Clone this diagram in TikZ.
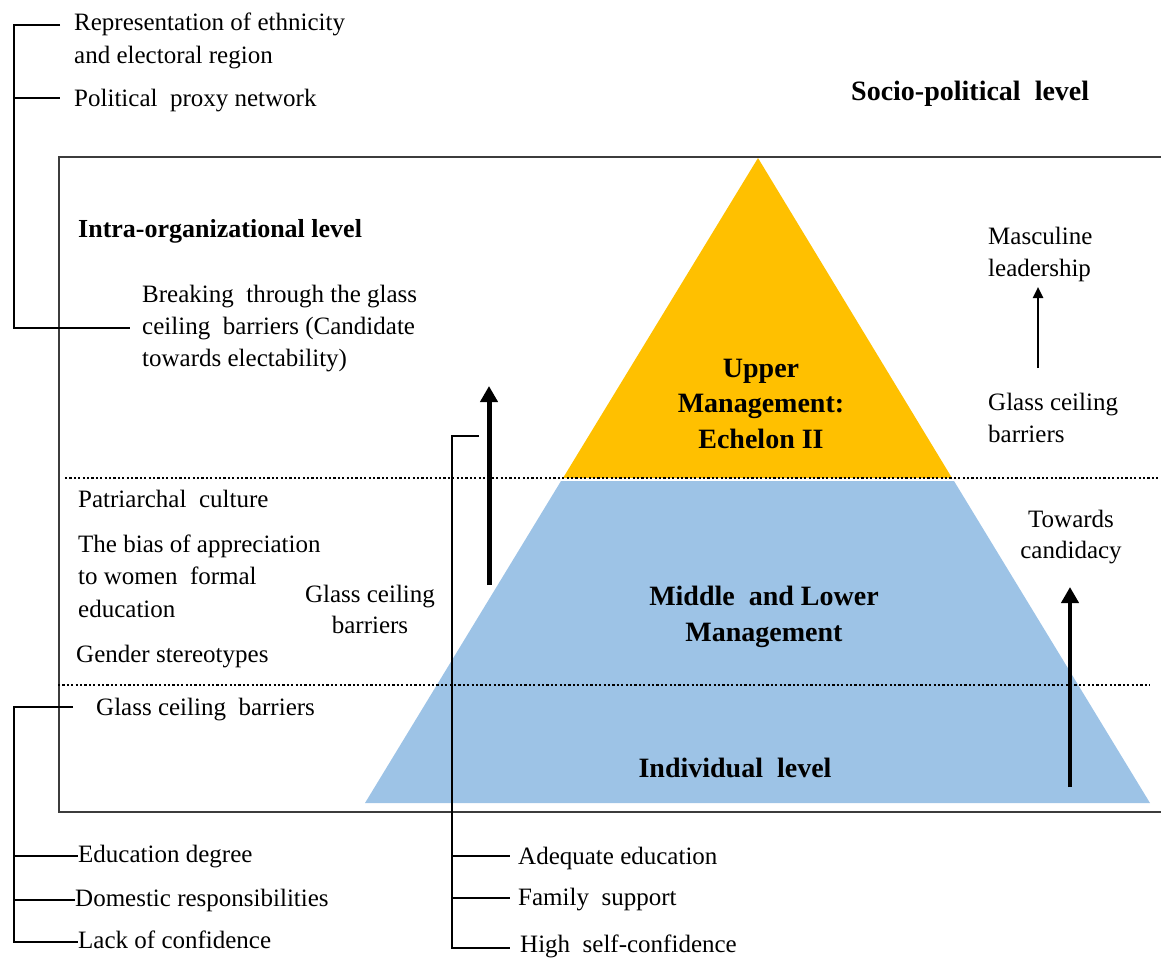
\documentclass[tikz,border=0pt]{standalone}
\usepackage{fontspec}
\setmainfont{Liberation Serif}
\usetikzlibrary{arrows.meta}

\definecolor{upperfill}{HTML}{FFC000}
\definecolor{lowerfill}{HTML}{9DC3E6}
\definecolor{framegray}{HTML}{3C3C3C}

% multi-line nodes are placed by the baseline of their last line
\tikzset{
  txt/.style={inner sep=0pt, anchor=base west, align=left,
              font=\fontsize{25}{32.5}\selectfont},
  ctxt/.style={inner sep=0pt, anchor=base, align=center,
               font=\fontsize{25}{31}\selectfont},
  btxt/.style={inner sep=0pt, anchor=base, align=center,
               font=\fontsize{28}{35.5}\selectfont\bfseries},
  bracket/.style={line width=2pt, black},
  levelline/.style={line width=2.2pt, dash pattern=on 2.2pt off 2.2pt, black},
  frameline/.style={line width=1.6pt, framegray},
  bigarrow/.style={line width=5pt, -{Triangle[length=16pt, width=17pt]}},
  smallarrow/.style={line width=2.4pt, -{Triangle[length=11pt, width=10pt]}}
}

\begin{document}
\begin{tikzpicture}[x=1pt, y=-1pt]
\useasboundingbox (0,0) rectangle (1161,959);

% outer frame of the intra-organizational level
\draw[frameline] (1170,157) -- (59,157) -- (59,812) -- (1170,812);

% the pyramid
\coordinate (apex) at (758,158);
\fill[upperfill] (apex) -- (952,478) -- (563,478) -- cycle;
\fill[lowerfill] (561,481) -- (954,481) -- (1150,803) -- (365,803) -- cycle;

% level separators
\draw[levelline] (65,478) -- (1158,478);
\draw[levelline] (58,685) -- (1150,685);

% texts
\node[txt] (rep) at (74,63) {Representation of ethnicity\\and electoral region};
\node[txt] (proxy) at (74,106) {Political\ \ proxy network};
\node[btxt, anchor=base west] (socio) at (851,100) {Socio-political\ \ level};
\node[btxt, anchor=base west, font=\fontsize{26}{32}\selectfont\bfseries] (intra) at (78,237) {Intra-organizational level};
\node[txt, font=\fontsize{25}{32}\selectfont] (breaking) at (142,366) {Breaking\ \ through the glass\\ceiling\ \ barriers (Candidate\\towards electability)};
\node[btxt] (upper) at (761,448) {Upper\\Management:\\Echelon II};
\node[txt, font=\fontsize{25}{32}\selectfont] (masc) at (988,276) {Masculine\\leadership};
\node[txt, font=\fontsize{25}{32}\selectfont] (gcright) at (988,442) {Glass ceiling\\barriers};
\node[txt, font=\fontsize{25}{32.5}\selectfont] (patri) at (78,507) {Patriarchal\ \ culture};
\node[txt] (bias) at (78,617) {The bias of appreciation\\to women\ \ formal\\education};
\node[txt] (gender) at (76,662) {Gender stereotypes};
\node[ctxt] (gcmid) at (370,633) {Glass ceiling\\barriers};
\node[btxt, font=\fontsize{28}{36}\selectfont\bfseries] (middle) at (764,641) {Middle\ \ and Lower\\Management};
\node[ctxt] (towards) at (1071,558) {Towards\\candidacy};
\node[txt] (gclow) at (96,715) {Glass ceiling\ \ barriers};
\node[btxt] (indiv) at (735,777) {Individual\ \ level};
\node[txt] (edu) at (78,862) {Education degree};
\node[txt] (dom) at (75,906) {Domestic responsibilities};
\node[txt] (lack) at (78,948) {Lack of confidence};
\node[txt] (adeq) at (518,864) {Adequate education};
\node[txt] (fam) at (518,905) {Family\ \ support};
\node[txt] (high) at (520,952) {High\ \ self-confidence};

% bracket: socio-political factors
\coordinate (sA) at (14,25);
\coordinate (sB) at (14,98);
\coordinate (sC) at (14,328);
\coordinate (sAend) at (60,25);
\coordinate (sBend) at (60,98);
\coordinate (sCend) at (130,328);
\draw[bracket] (sAend) -- (sA) -- (sC) -- (sCend);
\draw[bracket] (sB) -- (sBend);

% bracket: individual barriers
\coordinate (iA) at (14,707);
\coordinate (iD) at (14,942);
\draw[bracket] (73,707) -- (iA) -- (iD) -- (lack.west |- iD);
\draw[bracket] (14,856) -- (edu.west |- 0,856);
\draw[bracket] (14,900) -- (dom.west |- 0,900);

% bracket: individual supports
\coordinate (mA) at (452,436);
\coordinate (mD) at (452,948);
\draw[bracket] (479,436) -- (mA) -- (mD) -- (510,948);
\draw[bracket] (452,856) -- (510,856);
\draw[bracket] (452,898) -- (510,898);

% arrows
\coordinate (up1s) at (489,585);
\coordinate (up1e) at (489,386);
\draw[bigarrow] (up1s) -- (up1e);
\coordinate (up2s) at (1070,787);
\coordinate (up2e) at (1070,587);
\draw[bigarrow, line width=4.5pt] (up2s) -- (up2e);
\coordinate (up3s) at (1038,368);
\coordinate (up3e) at (1038,287);
\draw[smallarrow] (up3s) -- (up3e);
\end{tikzpicture}
\end{document}
